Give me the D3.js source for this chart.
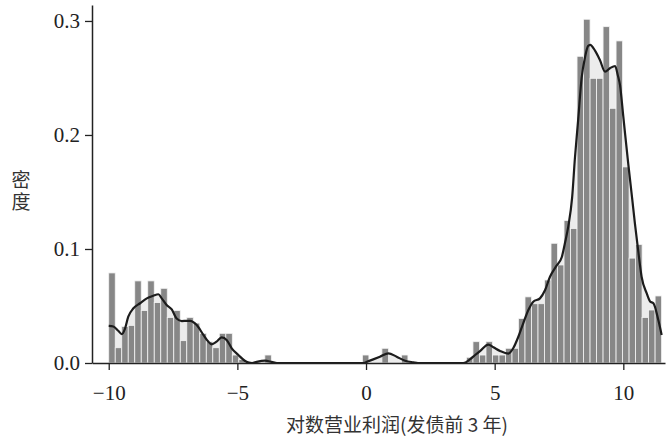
<!DOCTYPE html>
<html>
<head>
<meta charset="utf-8">
<script src="https://cdn.jsdelivr.net/npm/d3@7"></script>
<style>
  html, body { margin: 0; padding: 0; background: #fff; }
  svg { display: block; }
</style>
</head>
<body>
<svg id="chart" width="670" height="441"></svg>
<script>
// Histogram of log operating profit (3 years before issuance), density-normalised
const binStart = -10.0;
const binWidth = 0.2528;
const binDensity = [
  0.079, 0.0134, 0.032, 0.033, 0.072, 0.046, 0.072, 0.053, 0.0655, 0.040,
  0.046, 0.0196, 0.040, 0.035, 0.026, 0.0187, 0.0134, 0.026, 0.026, 0.007,
  0.003, 0, 0, 0, 0.007, 0, 0, 0, 0, 0,
  0, 0, 0, 0, 0, 0, 0, 0, 0, 0.007,
  0, 0, 0.0129, 0, 0, 0.007, 0, 0, 0, 0,
  0, 0, 0, 0, 0, 0.005, 0.0187, 0.007, 0.0187, 0.007,
  0.007, 0.0129, 0.0129, 0.039, 0.058, 0.052, 0.052, 0.0728, 0.105, 0.086,
  0.125, 0.118, 0.269, 0.3015, 0.2497, 0.2497, 0.295, 0.2234, 0.2825, 0.172,
  0.092, 0.104, 0.040, 0.0465, 0.0588
];

// Kernel density curve
const kdeX = [
  -10.0, -9.82, -9.63, -9.49, -9.37, -9.24, -9.04, -8.78, -8.52, -8.27,
  -8.07, -7.94, -7.75, -7.55, -7.36, -7.16, -6.97, -6.84, -6.58, -6.32,
  -6.14, -6.00, -5.81, -5.61, -5.41, -5.22, -4.96, -4.70, -4.55, -4.43,
  -4.25, -3.93, -3.67, -3.46, -0.10, 0.08, 0.28, 0.54, 0.87, 1.19,
  1.52, 1.84, 2.02, 3.78, 4.04, 4.24, 4.43, 4.75, 4.95, 5.21,
  5.53, 5.72, 5.92, 6.11, 6.31, 6.50, 6.76, 6.96, 7.15, 7.38,
  7.61, 7.73, 7.86, 8.01, 8.12, 8.24, 8.38, 8.51, 8.63, 8.71,
  8.90, 9.09, 9.29, 9.48, 9.68, 9.79, 9.87, 10.0, 10.19, 10.34,
  10.45, 10.57, 10.71, 10.91, 11.04, 11.17, 11.36, 11.49
];
const kdeY = [
  0.0325, 0.032, 0.0283, 0.0254, 0.030, 0.0406, 0.048, 0.0524, 0.0567, 0.059,
  0.0603, 0.0567, 0.0509, 0.047, 0.039, 0.0368, 0.037, 0.037, 0.0333, 0.0246,
  0.019, 0.0164, 0.0187, 0.0225, 0.020, 0.0129, 0.007, 0.0018, 0.0003, 0,
  0.001, 0.002, 0.001, 0, 0, 0.0015, 0.0032, 0.0055, 0.0085, 0.0055,
  0.002, 0.0006, 0, 0, 0.0032, 0.007, 0.0105, 0.0162, 0.0138, 0.0105,
  0.0082, 0.0129, 0.023, 0.0348, 0.0465, 0.0538, 0.0567, 0.064, 0.0757, 0.0845,
  0.093, 0.105, 0.1196, 0.145, 0.18, 0.212, 0.25, 0.268, 0.278, 0.279,
  0.274, 0.2658, 0.2555, 0.2585, 0.2605, 0.252, 0.2439, 0.216, 0.175, 0.145,
  0.1225, 0.1, 0.0757, 0.061, 0.054, 0.0524, 0.0377, 0.0246
];

const xTicks = [-10, -5, 0, 5, 10];
const yTicks = [0.0, 0.1, 0.2, 0.3];
const xLabel = "对数营业利润(发债前 3 年)";
const yLabel = "密度";

const svg = d3.select("#chart");
const serif = "'Liberation Serif', 'DejaVu Serif', serif";
const cjk = "'Noto Sans CJK SC', 'Noto Sans', sans-serif";

const x = d3.scaleLinear().domain([-10.65, 11.62]).range([92, 665]);
const y = d3.scaleLinear().domain([0, 0.314]).range([363, 5]);

const bins = binDensity.map((d, i) => ({
  x0: binStart + i * binWidth,
  x1: binStart + (i + 1) * binWidth,
  v: d
}));

const kde = kdeX.map((v, i) => [v, kdeY[i]]);

// light shading under the density curve
svg.append("path")
  .datum(kde)
  .attr("fill", "#ececec")
  .attr("d", d3.area().x(d => x(d[0])).y0(y(0)).y1(d => y(d[1])).curve(d3.curveMonotoneX));

// histogram bars
svg.append("g")
  .selectAll("rect")
  .data(bins.filter(b => b.v > 0))
  .join("rect")
  .attr("x", d => x(d.x0))
  .attr("width", d => x(d.x1) - x(d.x0))
  .attr("y", d => y(d.v))
  .attr("height", d => y(0) - y(d.v))
  .attr("fill", "#878787")
  .attr("stroke", "#f4f4f4")
  .attr("stroke-width", 0.8);

// density curve
svg.append("path")
  .datum(kde)
  .attr("fill", "none")
  .attr("stroke", "#1c1c1c")
  .attr("stroke-width", 2.2)
  .attr("stroke-linejoin", "round")
  .attr("d", d3.line().x(d => x(d[0])).y(d => y(d[1])).curve(d3.curveMonotoneX));

// axes
const fmtX = d => (d < 0 ? "\u2212" + Math.abs(d) : String(d));
const gx = svg.append("g")
  .attr("transform", `translate(0,${y(0)})`)
  .call(d3.axisBottom(x).tickValues(xTicks).tickFormat(fmtX).tickSize(7).tickPadding(15).tickSizeOuter(0));
const gy = svg.append("g")
  .attr("transform", `translate(${x.range()[0]},0)`)
  .call(d3.axisLeft(y).tickValues(yTicks).tickFormat(d3.format(".1f")).tickSize(7).tickPadding(5).tickSizeOuter(0));

[gx, gy].forEach(g => {
  g.select(".domain").attr("stroke", "#222").attr("stroke-width", 1.5);
  g.selectAll(".tick line").attr("stroke", "#222").attr("stroke-width", 1.3);
  g.selectAll(".tick text")
    .attr("fill", "#222")
    .style("font-family", serif)
    .style("font-size", "21px");
});

// axis titles
svg.append("text")
  .attr("x", 397)
  .attr("y", 432)
  .attr("text-anchor", "middle")
  .attr("fill", "#333")
  .style("font-family", cjk)
  .style("font-size", "19px")
  .text(xLabel);

// y title: upright characters stacked vertically
svg.append("text")
  .attr("x", 21)
  .attr("y", 170)
  .attr("fill", "#333")
  .style("font-family", cjk)
  .style("font-size", "19px")
  .style("writing-mode", "vertical-rl")
  .style("text-orientation", "upright")
  .style("letter-spacing", "3px")
  .text(yLabel);
</script>
</body>
</html>
